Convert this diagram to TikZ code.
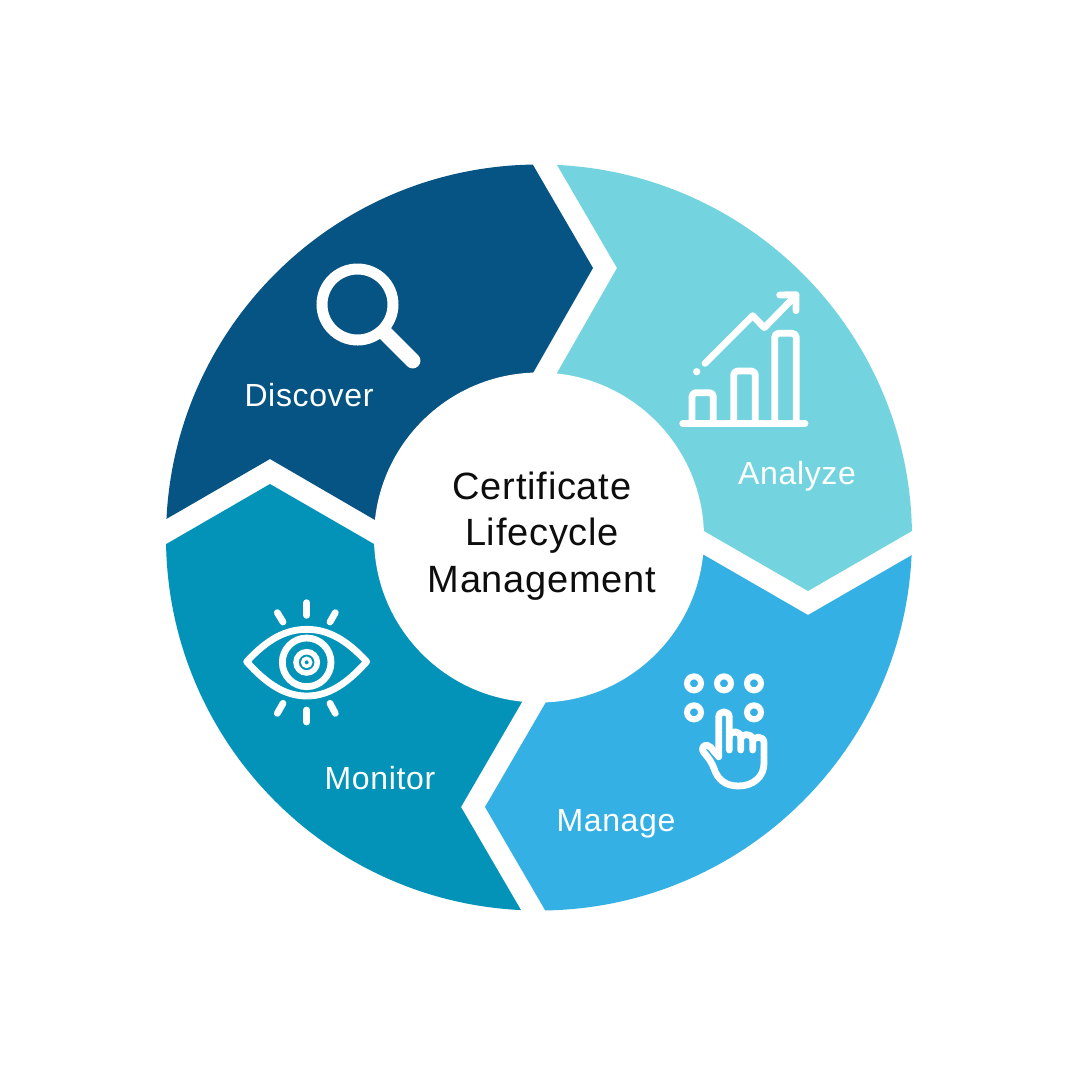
\documentclass[tikz,border=0pt]{standalone}
\usepackage{fontspec}
\setmainfont{Liberation Sans}
\newfontfamily\labelfont[LetterSpace=2]{Liberation Sans}
\definecolor{cDiscover}{HTML}{065483}
\definecolor{cAnalyze}{HTML}{73D4E0}
\definecolor{cManage}{HTML}{35B0E4}
\definecolor{cMonitor}{HTML}{0393B8}
\tikzset{
  seglabel/.style={text=white,font=\labelfont\fontsize{32}{33}\selectfont,inner sep=0pt,anchor=base},
  titlelabel/.style={text=black!95,font=\labelfont\fontsize{38}{46.5}\selectfont,align=center,inner sep=0pt},
  iconline/.style={draw=white,line width=6.8pt,line cap=round,line join=round},
  iconzoom/.style={x=0.33333pt,y=-0.33333pt},
}
\begin{document}
\begin{tikzpicture}[x=1pt,y=-1pt]
\useasboundingbox (0,0) rectangle (1080,1080);
\fill[white] (0,0) rectangle (1080,1080);
\begin{scope}
  \clip (539,537.5) circle[radius=373];
  \fill[cDiscover] (515,134) -- (593,268) -- (533,373) -- (539,537.5) -- (375,520) -- (270,459) -- (130,540) -- (100,100) -- cycle;
  \fill[cAnalyze] (539,134) -- (617,268) -- (557,373) -- (539,537.5) -- (704,531) -- (808,591) -- (950,509) -- (950,100) -- cycle;
  \fill[cManage] (704,555) -- (808,615) -- (950,533) -- (950,950) -- (563,941) -- (485,807) -- (546,702) -- (539,537.5) -- cycle;
  \fill[cMonitor] (522,702) -- (461,807) -- (539,941) -- (100,950) -- (130,565) -- (270,484) -- (374,544) -- (539,537.5) -- cycle;
\end{scope}
\fill[white] (539,537.5) circle[radius=165];
% magnifier
\draw[white,line width=11pt] (357.5,304.5) circle[radius=35.5];
\draw[white,line width=15.5pt,line cap=round] (386,334) -- (412.7,360.7);
% chart
\begin{scope}[shift={(670,280)},iconzoom]
  \draw[iconline] (38,430) -- (405,430);
  \draw[iconline,rounded corners=4pt] (66,430) -- (66,338) -- (130,338) -- (130,430);
  \draw[iconline,rounded corners=4pt] (191,430) -- (191,273) -- (256,273) -- (256,430);
  \draw[iconline,rounded corners=4pt] (314,430) -- (314,160) -- (379,160) -- (379,430);
  \draw[iconline] (105,250) -- (248,107) -- (283,143) -- (378,46);
  \draw[iconline] (329,45) -- (378,44) -- (378,92);
  \fill[white] (80,275) circle[radius=11];
\end{scope}
% hand
\begin{scope}[shift={(670,660)},iconzoom]
  \foreach \cx/\cy in {72/70,162/70,252/70,72/157,252/157}
    \draw[white,line width=6pt] (\cx,\cy) circle[radius=21];
  \draw[iconline] (146,290) -- (122,262) .. controls (110,248) and (88,258) .. (102,278)
    .. controls (118,296) and (125,308) .. (132,325)
    .. controls (142,357) and (165,378) .. (205,378)
    .. controls (250,378) and (282,350) .. (282,310)
    -- (282,248) .. controls (282,226) and (248,226) .. (248,248)
    -- (248,270) -- (248,240) .. controls (248,218) and (212,218) .. (212,240)
    -- (212,270) -- (212,232) .. controls (212,210) and (178,210) .. (178,232);
  \draw[iconline] (146,290) -- (146,172) .. controls (146,150) and (178,150) .. (178,172) -- (178,270);
\end{scope}
% eye
\begin{scope}[shift={(235,590)},iconzoom]
  \draw[iconline] (35,215) .. controls (95,150) and (150,118) .. (215,118)
    .. controls (280,118) and (335,150) .. (395,215)
    .. controls (335,282) and (280,318) .. (215,318)
    .. controls (150,318) and (95,282) .. (35,215) -- cycle;
  \draw[white,line width=6.8pt] (215,217) circle[radius=73];
  \draw[white,line width=5.5pt] (215,217) circle[radius=32];
  \draw[white,line width=3.5pt] (215,217) circle[radius=12];
  \draw[iconline] (215,38) -- (215,76);
  \draw[iconline] (127,68) -- (144,96);
  \draw[iconline] (301,68) -- (285,96);
  \draw[iconline] (215,360) -- (215,396);
  \draw[iconline] (144,340) -- (127,370);
  \draw[iconline] (285,340) -- (301,370);
\end{scope}
\node[seglabel] (discover) at (309,406) {Discover};
\node[seglabel] (analyze) at (797,484) {Analyze};
\node[seglabel] (manage) at (616,831) {Manage};
\node[seglabel] (monitor) at (380,789) {Monitor};
\node[titlelabel] (title) at (542,536) {Certificate\\Lifecycle\\Management};
\end{tikzpicture}
\end{document}
